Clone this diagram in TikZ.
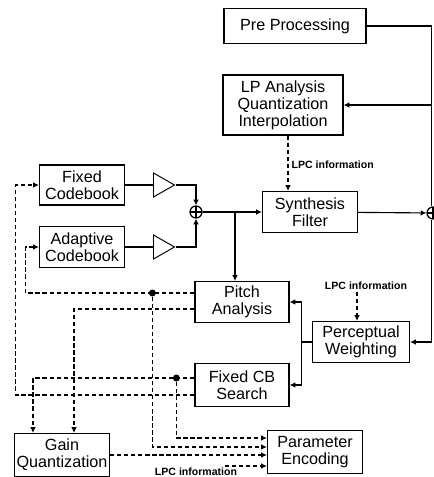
\documentclass[tikz,border=0pt]{standalone}
\usepackage{fontspec}
\setmainfont{Liberation Sans}
\usetikzlibrary{shapes,arrows.meta,positioning,calc}
\tikzset{
    block/.style = {draw, rectangle, line width=0.9pt, inner sep=1pt, align=center,
        font=\fontsize{11.5}{12}\selectfont},
    sumnode/.style = {draw, circle, line width=0.9pt, minimum size=0.3cm, inner sep=0pt,
        path picture={\draw[line width=0.9pt] (path picture bounding box.north) -- (path picture bounding box.south)
            (path picture bounding box.west) -- (path picture bounding box.east);}},
    gain/.style = {draw, isosceles triangle, isosceles triangle stretches, line width=0.7pt,
        minimum width=0.6cm, minimum height=0.525cm, inner sep=0pt},
    dot/.style = {circle, fill, inner sep=0pt, minimum size=5pt},
    lpc/.style = {inner sep=1pt, font=\fontsize{7.5}{9}\selectfont\bfseries},
    wire/.style = {line width=0.8pt},
    sig/.style = {wire, -{Latex[length=4pt,width=4pt]}},
    dsig/.style = {sig, dash pattern=on 3pt off 2pt},
}

\begin{document}
\begin{tikzpicture}[x=0.025cm, y=-0.025cm]
\useasboundingbox (0,0) rectangle (433,477);

% Blocks
\node[block, minimum width=3.55cm, minimum height=0.875cm] (pre) at (295,26) {Pre Processing};
\node[block, minimum width=3cm, minimum height=1.5cm] (lpa) at (283,105) {LP Analysis\\Quantization\\Interpolation};
\node[block, minimum width=2.375cm, minimum height=1.025cm] (syn) at (310,212) {Synthesis\\Filter};
\node[block, minimum width=2.125cm, minimum height=1cm] (fcb) at (82,185) {Fixed\\Codebook};
\node[block, minimum width=2.125cm, minimum height=1.025cm] (acb) at (82,247) {Adaptive\\Codebook};
\node[block, minimum width=2.35cm, minimum height=1.025cm] (pitch) at (242,302) {Pitch\\Analysis};
\node[block, minimum width=2.35cm, minimum height=1.075cm] (fcbs) at (242,385) {Fixed CB\\Search};
\node[block, minimum width=2.425cm, minimum height=1.025cm] (pw) at (361,342) {Perceptual\\Weighting};
\node[block, minimum width=2.375cm, minimum height=1.075cm] (gq) at (62,455) {Gain\\Quantization};
\node[block, minimum width=2.375cm, minimum height=1.075cm] (pe) at (315,452) {Parameter\\Encoding};

% Gains and adders
\node[gain, anchor=west] (gf) at (153,185) {};
\node[gain, anchor=west] (ga) at (153,247) {};
\node[sumnode] (sum) at (196,212) {};
\node[sumnode] (rsum) at (433,213) {};

% LPC labels
\node[lpc, anchor=west] (lpc1) at (290,165) {LPC information};
\node[lpc] (lpc2) at (366,286) {LPC information};
\node[lpc] (lpc3) at (196,472) {LPC information};

% Excitation path
\draw[wire] (fcb) -- (gf);
\draw[wire] (acb) -- (ga);
\draw[sig] (gf.apex) -| (sum.north);
\draw[sig] (ga.apex) -| (sum.south);
\draw[sig] (sum) -- (syn);
\coordinate (br) at ($(pitch.north)+(-7,0)$);
\draw[sig] (br |- sum.east) -- (br);

% Input speech and error
\coordinate (rl) at ($(rsum.north)+(-1.5,0)$);
\draw[wire] (pre.east) -| (rl);
\draw[sig] (rl |- lpa.east) -- (lpa.east);
\draw[sig] (syn) -- (rsum);
\draw[sig] ($(rsum.south)+(-1.5,0)$) |- (pw.east);
\coordinate (fk) at ($(pw.west)+(-10,0)$);
\draw[wire] (pw.west) -- (fk);
\draw[sig] (fk) |- (pitch.east);
\draw[sig] (fk) |- (fcbs.east);

% LPC information
\coordinate (l1) at ($(lpa.south)+(5,0)$);
\draw[dsig] (l1) -- (l1 |- syn.north);
\coordinate (l2) at ($(pw.north)+(-4,0)$);
\draw[dsig] (l2 |- lpc2.south) -- (l2);
\coordinate (l3) at (225,466);
\draw[dsig] (l3) -- (l3 -| pe.west);

% Parameter search feedback (dashed)
\coordinate (p1) at ($(pitch.west)+(0,-9)$);
\coordinate (p2) at ($(pitch.west)+(0,7)$);
\coordinate (s1) at ($(fcbs.west)+(0,-7)$);
\coordinate (s2) at ($(fcbs.west)+(0,10)$);
\node[dot] (j1) at ($(p1)+(-42,0)$) {};
\node[dot] (j2) at ($(s1)+(-18,0)$) {};
\draw[dsig] (p1) -| ($(acb.west)+(-13,0)$) -- (acb.west);
\draw[dsig] (p2) -| ($(gq.north)+(12,0)$);
\draw[dsig] (s1) -| ($(gq.north)+(-29,0)$);
\draw[dsig] (s2) -| ($(fcb.west)+(-23,0)$) -- (fcb.west);
\draw[dsig] (j1) |- ($(pe.west)+(0,-5)$);
\draw[dsig] (j2) |- ($(pe.west)+(0,-14)$);
\draw[dsig] (gq.east) -- (gq.east -| pe.west);

\end{tikzpicture}
\end{document}
